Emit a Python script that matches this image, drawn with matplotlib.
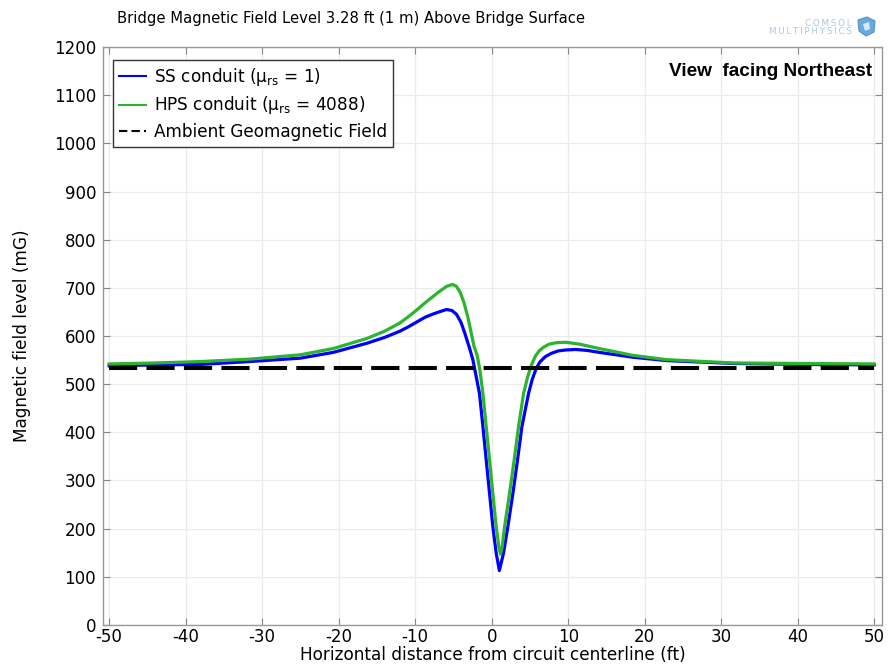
import matplotlib
matplotlib.use("Agg")
import matplotlib.pyplot as plt
from matplotlib.patches import Polygon

plt.rcParams["axes.unicode_minus"] = False
plt.rcParams["font.family"] = ["DejaVu Sans"]

# Horizontal distance from circuit centerline (ft) and field level (mG)
x_ss = [-50, -44, -38, -31.6, -25, -20.7, -16.3, -14, -12, -10.9, -9.8, -8.7,
        -7.6, -6.7, -5.9, -5.2, -4.6, -4.0, -3.5, -2.9, -2.45, -1.6, -1.15,
        -0.72, -0.28, 0.15, 0.59, 1.0, 1.54, 2.11, 2.77, 3.38, 3.95, 4.82, 5.3,
        5.8, 6.3, 7.0, 7.8, 8.7, 9.7, 11.0, 12.5, 14.05, 18.4, 22.8, 31.5,
        40.2, 50]
b_ss = [538, 540, 541, 547, 554, 566, 585, 597, 610, 619, 629, 639,
        646, 651, 655, 653, 645, 628, 605, 575, 550, 481, 412,
        343, 273, 204, 149, 113, 149, 204, 273, 343, 412, 481, 510,
        532, 546, 557, 564, 569, 571, 572, 570, 566, 556, 549, 543,
        541, 540]

x_hps = [-50, -44, -38, -31.6, -25, -20.7, -16.3, -14, -12, -10.9, -9.8, -8.7,
         -7.6, -6.7, -5.9, -5.1, -4.6, -4.1, -3.6, -3.1, -2.7, -2.3, -1.9,
         -1.55, -1.15, -0.72, -0.28, 0.15, 0.59, 0.94, 1.15, 1.37, 1.68, 2.33,
         2.94, 3.51, 4.17, 4.7, 5.2, 5.7, 6.2, 6.8, 7.5, 8.4, 9.7, 11.5, 14.05,
         18.4, 22.8, 31.5, 40.2, 50]
b_hps = [542, 544, 547, 552, 561, 574, 595, 610, 627, 640, 654, 669,
         683, 694, 703, 707, 703, 690, 668, 638, 608, 578, 560,
         530, 481, 412, 343, 273, 204, 162, 147, 162, 204, 273,
         343, 412, 481, 515, 540, 558, 569, 577, 583, 586, 587, 583, 574,
         560, 551, 544, 543, 542]

ambient = 533
x_ticks = list(range(-50, 51, 10))
y_ticks = list(range(0, 1201, 100))

fig = plt.figure(figsize=(8.89, 6.67), dpi=100)
ax = fig.add_axes([0.1159, 0.063, 0.8761, 0.8665])

ax.plot(x_ss, b_ss, color="#0000ff", lw=2.3, solid_joinstyle="round",
        label="SS conduit (\u03bc$_{\\rm rs}$ = 1)", zorder=3)
ax.plot(x_hps, b_hps, color="#2db42d", lw=2.3, solid_joinstyle="round",
        label="HPS conduit (\u03bc$_{\\rm rs}$ = 4088)", zorder=4)
ax.plot([x_ticks[0], x_ticks[-1]], [ambient, ambient], color="black", lw=2.9,
        dashes=(7, 2.3), label="Ambient Geomagnetic Field", zorder=5)

ax.set_xlim(-50.8, 51.0)
ax.set_ylim(0, 1200)
ax.set_xticks(x_ticks)
ax.set_yticks(y_ticks)
ax.grid(True, color="#ebebeb", lw=0.9)
ax.set_axisbelow(True)
ax.tick_params(direction="in", top=True, right=True, length=5, color="#888888",
               labelsize=12)
ax.tick_params(axis="y", pad=5)
ax.tick_params(axis="x", pad=2)
for s in ax.spines.values():
    s.set_color("#999999")
    s.set_linewidth(1.0)

ax.set_xlabel("Horizontal distance from circuit centerline (ft)", fontsize=12.2)
ax.xaxis.set_label_coords(0.5, -0.037)
ax.set_ylabel("Magnetic field level (mG)", fontsize=12.2)
ax.yaxis.set_label_coords(-0.092, 0.5)

leg = ax.legend(loc="upper left", bbox_to_anchor=(0.0, 0.995), fontsize=12.2,
                frameon=True, fancybox=False, handlelength=1.6,
                borderpad=0.35, labelspacing=0.38, handletextpad=0.45,
                borderaxespad=0.6)
leg.get_frame().set_edgecolor("#333333")
leg.get_frame().set_linewidth(1.0)
leg.get_frame().set_alpha(1)
for h in leg.get_lines():
    h.set_linewidth(1.5)
leg.get_lines()[2].set_dashes((4, 2))

ax.text(0.987, 0.957, "View  facing Northeast", transform=ax.transAxes, ha="right",
        va="center", fontsize=13.7, fontweight="bold", family="Liberation Sans")

fig.text(0.1315, 0.973, "Bridge Magnetic Field Level 3.28 ft (1 m) Above Bridge Surface",
         fontsize=10.6, va="center", ha="left")

# brand mark in the top-right corner
ts = "\u2009"
fig.text(852 / 889, 1 - 23 / 667, ts.join("COMSOL"), fontsize=6.3, color="#a7c8e0",
         ha="right", va="center")
fig.text(852 / 889, 1 - 31 / 667, ts.join("MULTIPHYSICS"), fontsize=6.3, color="#a7c8e0",
         ha="right", va="center")
cube = [(858, 20), (867, 17), (875, 21), (874, 32), (866, 36), (859, 31)]
fig.patches.append(Polygon([(px / 889, 1 - py / 667) for px, py in cube],
                           closed=True, transform=fig.transFigure,
                           facecolor="#6aa9dc", edgecolor="#4f93cf", lw=0.8))
face = [(863, 24), (869, 22), (870, 29), (865, 31)]
fig.patches.append(Polygon([(px / 889, 1 - py / 667) for px, py in face],
                           closed=True, transform=fig.transFigure,
                           facecolor="#d8e9f6", edgecolor="none"))

fig.savefig("out.png", dpi=100)
